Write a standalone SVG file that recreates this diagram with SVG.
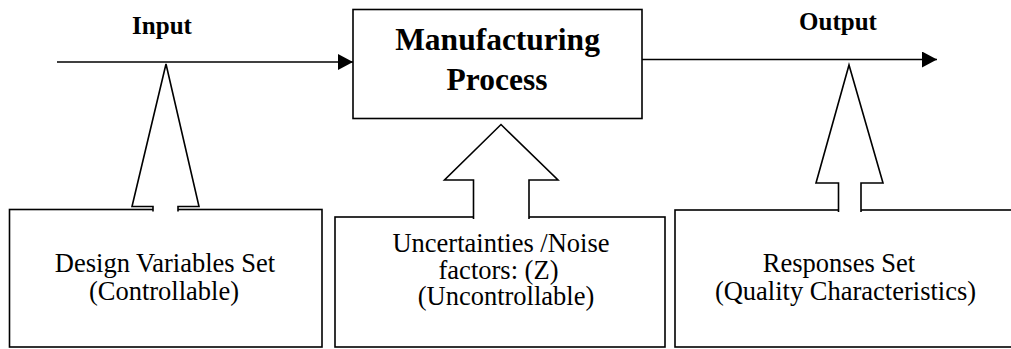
<svg xmlns="http://www.w3.org/2000/svg" width="1011" height="349" viewBox="0 0 1011 349">
  <style>
    .box { fill: #ffffff; stroke: #000000; stroke-width: 1.6; }
    .line { fill: none; stroke: #000000; stroke-width: 1.6; }
    .block { fill: #ffffff; stroke: #000000; stroke-width: 1.6; stroke-linejoin: miter; }
  </style>
  <defs>
    <marker id="arrow" markerUnits="userSpaceOnUse" markerWidth="16" markerHeight="18" refX="15" refY="8" orient="auto">
      <path d="M0,0 L15,8 L0,16 Z" fill="#000000"/>
    </marker>
  </defs>
  <rect width="1011" height="349" fill="#ffffff"/>

  <g id="process">
    <rect class="box" x="353" y="9.5" width="289" height="109"/>
    <text x="497.5" y="49.5" font-family="Liberation Serif, serif" font-size="31.5" font-weight="bold" text-anchor="middle">Manufacturing</text>
    <text x="497" y="89.5" font-family="Liberation Serif, serif" font-size="31.5" font-weight="bold" text-anchor="middle">Process</text>
  </g>

  <g id="design-variables">
    <rect class="box" x="9.5" y="209.5" width="312.5" height="137.5"/>
    <text x="165" y="272" font-family="Liberation Serif, serif" font-size="26.5" text-anchor="middle">Design Variables Set</text>
    <text x="164" y="299.5" font-family="Liberation Serif, serif" font-size="26.5" text-anchor="middle">(Controllable)</text>
  </g>

  <g id="noise-factors">
    <rect class="box" x="335" y="217" width="330" height="130"/>
    <text x="501" y="252" font-family="Liberation Serif, serif" font-size="26.5" text-anchor="middle">Uncertainties /Noise</text>
    <text x="498.5" y="278.5" font-family="Liberation Serif, serif" font-size="26.5" text-anchor="middle">factors: (Z)</text>
    <text x="506" y="305" font-family="Liberation Serif, serif" font-size="26.5" text-anchor="middle">(Uncontrollable)</text>
  </g>

  <g id="responses">
    <rect class="box" x="675" y="210" width="340" height="137"/>
    <text x="839" y="272" font-family="Liberation Serif, serif" font-size="26.5" text-anchor="middle">Responses Set</text>
    <text x="845.5" y="300" font-family="Liberation Serif, serif" font-size="26.5" text-anchor="middle">(Quality Characteristics)</text>
  </g>

  <g id="input-label">
    <text x="162" y="34" font-family="Liberation Serif, serif" font-size="25" font-weight="bold" text-anchor="middle">Input</text>
  </g>
  <g id="output-label">
    <text x="838" y="29.5" font-family="Liberation Serif, serif" font-size="25" font-weight="bold" text-anchor="middle">Output</text>
  </g>

  <g id="connectors">
    <line class="line" x1="57" y1="62" x2="353" y2="62" marker-end="url(#arrow)"/>
    <line class="line" x1="642" y1="59.5" x2="937" y2="59.5" marker-end="url(#arrow)"/>
    <path class="block" d="M153,211.5 L153,206.5 L132,206.5 L166,64 L199,206.5 L178,206.5 L178,211.5"/>
    <path class="block" d="M473.5,219 L473.5,180 L444.5,180 L501,124.5 L558,180 L529,180 L529,219"/>
    <path class="block" d="M838.5,212 L838.5,183 L816,183 L849,65 L883,183 L861,183 L861,212"/>
  </g>
</svg>
